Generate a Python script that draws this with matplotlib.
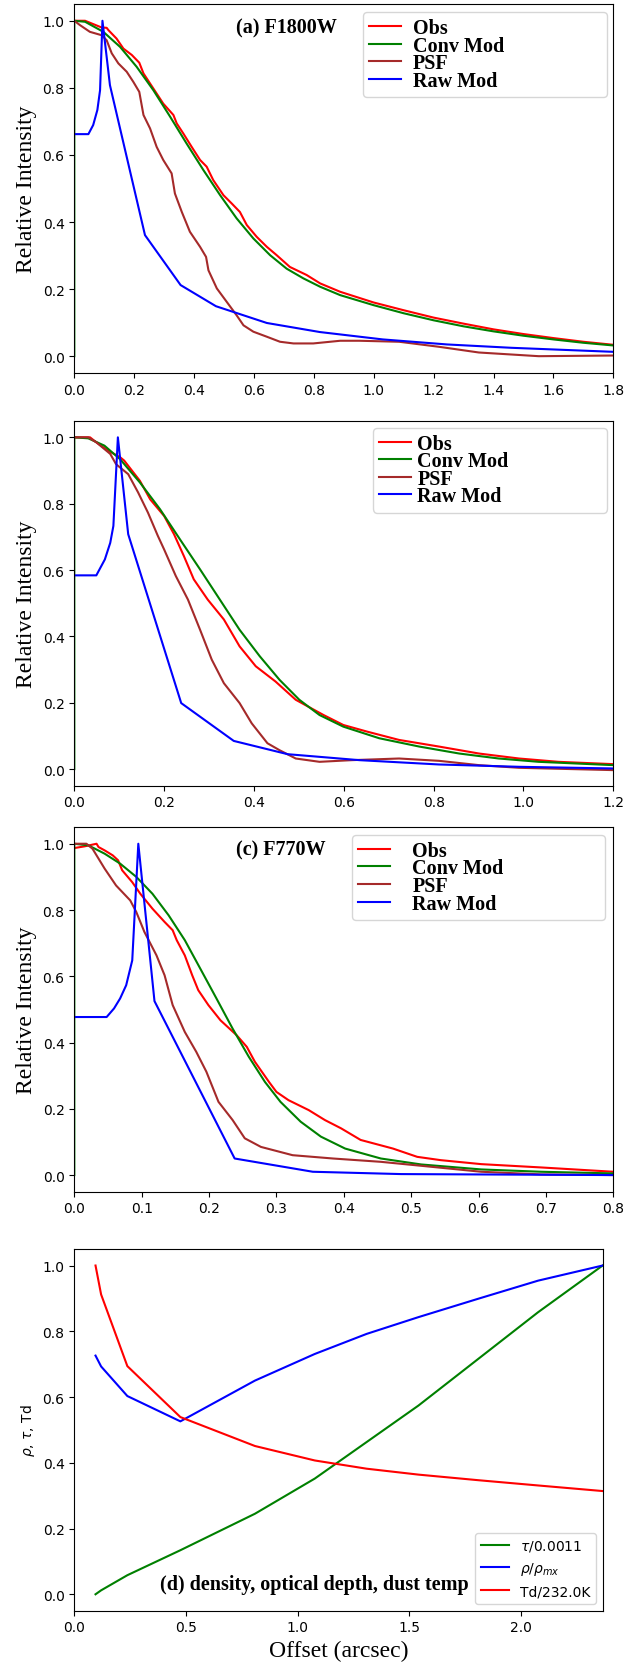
import matplotlib
matplotlib.use('Agg')
import matplotlib.pyplot as plt

# (a) F1800W
obs_a_x = [0, 0.036, 0.058, 0.091, 0.108, 0.114, 0.141, 0.164, 0.192, 0.217, 0.231, 0.264, 0.297, 0.331, 0.342,
           0.364, 0.392, 0.42, 0.442, 0.464, 0.498, 0.526, 0.553, 0.576, 0.609, 0.643, 0.676, 0.72, 0.776, 0.821,
           0.888, 1.0, 1.1, 1.2, 1.3, 1.4, 1.5, 1.6, 1.7, 1.8]
obs_a_y = [1.0, 1.0, 0.992, 0.98, 0.979, 0.972, 0.947, 0.917, 0.898, 0.875, 0.843, 0.798, 0.753, 0.719, 0.694,
           0.664, 0.624, 0.585, 0.565, 0.525, 0.48, 0.455, 0.43, 0.391, 0.356, 0.326, 0.301, 0.266, 0.242, 0.217,
           0.192, 0.16, 0.137, 0.115, 0.097, 0.08, 0.066, 0.054, 0.043, 0.034]
conv_a_x = [0, 0, 0.036, 0.097, 0.153, 0.208, 0.264, 0.32, 0.375, 0.431, 0.487, 0.542, 0.598, 0.654, 0.709,
            0.765, 0.821, 0.888, 1.0, 1.1, 1.2, 1.3, 1.4, 1.5, 1.6, 1.7, 1.8]
conv_a_y = [0, 1.0, 0.997, 0.967, 0.922, 0.863, 0.793, 0.714, 0.634, 0.555, 0.48, 0.411, 0.351, 0.301, 0.261,
            0.232, 0.207, 0.182, 0.152, 0.128, 0.107, 0.089, 0.074, 0.061, 0.05, 0.04, 0.032]
psf_a_x = [0, 0.019, 0.052, 0.091, 0.108, 0.125, 0.147, 0.175, 0.197, 0.217, 0.231, 0.253, 0.275, 0.297, 0.325,
           0.336, 0.359, 0.386, 0.42, 0.44, 0.448, 0.476, 0.509, 0.542, 0.565, 0.598, 0.643, 0.687, 0.732, 0.798,
           0.888, 0.952, 1.085, 1.218, 1.351, 1.551, 1.8]
psf_a_y = [1.0, 0.987, 0.967, 0.957, 0.942, 0.903, 0.873, 0.848, 0.818, 0.788, 0.719, 0.679, 0.624, 0.585, 0.545,
           0.485, 0.43, 0.371, 0.326, 0.296, 0.256, 0.202, 0.162, 0.122, 0.092, 0.073, 0.058, 0.043, 0.038, 0.038,
           0.046, 0.046, 0.043, 0.028, 0.011, 0.0, 0.002]
raw_a_x = [0, 0.047, 0.063, 0.077, 0.086, 0.094, 0.119, 0.236, 0.355, 0.473, 0.643, 0.82, 1.03, 1.245, 1.46, 1.8]
raw_a_y = [0.662, 0.662, 0.689, 0.734, 0.793, 1.0, 0.808, 0.361, 0.212, 0.149, 0.099, 0.072, 0.05, 0.035, 0.025, 0.013]

# (b)
obs_b_x = [0, 0.035, 0.049, 0.075, 0.102, 0.111, 0.146, 0.169, 0.2, 0.222, 0.244, 0.266, 0.297, 0.333, 0.368,
           0.404, 0.448, 0.493, 0.528, 0.555, 0.599, 0.652, 0.723, 0.812, 0.901, 0.99, 1.078, 1.2]
obs_b_y = [1.0, 1.0, 0.985, 0.96, 0.94, 0.93, 0.869, 0.813, 0.763, 0.708, 0.642, 0.572, 0.511, 0.451, 0.37,
           0.31, 0.264, 0.209, 0.183, 0.163, 0.133, 0.113, 0.088, 0.068, 0.047, 0.032, 0.022, 0.015]
conv_b_x = [0, 0, 0.031, 0.067, 0.102, 0.146, 0.191, 0.235, 0.28, 0.324, 0.368, 0.413, 0.457, 0.501, 0.546,
            0.599, 0.679, 0.768, 0.857, 0.945, 1.034, 1.2]
conv_b_y = [0, 1.0, 0.997, 0.975, 0.934, 0.864, 0.783, 0.693, 0.602, 0.511, 0.42, 0.34, 0.269, 0.209, 0.163,
            0.128, 0.093, 0.068, 0.047, 0.032, 0.022, 0.012]
psf_b_x = [0, 0.031, 0.049, 0.08, 0.093, 0.12, 0.142, 0.164, 0.186, 0.2, 0.226, 0.253, 0.28, 0.306, 0.333,
           0.368, 0.395, 0.43, 0.457, 0.493, 0.546, 0.617, 0.723, 0.812, 0.901, 0.99, 1.2]
psf_b_y = [1.0, 1.0, 0.985, 0.95, 0.919, 0.889, 0.834, 0.773, 0.703, 0.662, 0.582, 0.511, 0.42, 0.33, 0.259,
           0.199, 0.138, 0.078, 0.057, 0.032, 0.022, 0.027, 0.032, 0.025, 0.012, 0.004, -0.003]
raw_b_x = [0, 0.049, 0.068, 0.08, 0.087, 0.097, 0.12, 0.238, 0.355, 0.475, 0.635, 0.812, 0.99, 1.2]
raw_b_y = [0.584, 0.584, 0.632, 0.682, 0.733, 1.0, 0.708, 0.199, 0.085, 0.045, 0.027, 0.014, 0.007, 0.002]

# (c) F770W
obs_c_x = [0, 0.015, 0.033, 0.036, 0.045, 0.057, 0.065, 0.071, 0.086, 0.098, 0.116, 0.134, 0.146, 0.152, 0.164,
           0.175, 0.184, 0.199, 0.217, 0.241, 0.256, 0.268, 0.289, 0.3, 0.318, 0.348, 0.372, 0.396, 0.425, 0.473,
           0.509, 0.544, 0.604, 0.693, 0.8]
obs_c_y = [0.987, 0.992, 1.0, 0.99, 0.98, 0.965, 0.95, 0.92, 0.884, 0.849, 0.804, 0.764, 0.739, 0.709, 0.663,
           0.603, 0.558, 0.513, 0.467, 0.422, 0.387, 0.342, 0.281, 0.251, 0.226, 0.196, 0.166, 0.141, 0.106, 0.08,
           0.055, 0.045, 0.033, 0.023, 0.01]
conv_c_x = [0, 0, 0.021, 0.045, 0.068, 0.092, 0.116, 0.14, 0.164, 0.187, 0.211, 0.235, 0.259, 0.283, 0.306,
            0.336, 0.366, 0.402, 0.455, 0.515, 0.604, 0.693, 0.8]
conv_c_y = [0, 1.0, 0.995, 0.97, 0.94, 0.9, 0.849, 0.784, 0.709, 0.623, 0.533, 0.442, 0.357, 0.281, 0.221,
            0.161, 0.116, 0.08, 0.05, 0.032, 0.017, 0.01, 0.005]
psf_c_x = [0, 0.018, 0.027, 0.045, 0.062, 0.083, 0.092, 0.104, 0.122, 0.134, 0.146, 0.164, 0.181, 0.196, 0.214,
           0.235, 0.253, 0.277, 0.324, 0.384, 0.455, 0.515, 0.604, 0.693, 0.8]
psf_c_y = [1.0, 1.0, 0.985, 0.925, 0.874, 0.829, 0.794, 0.734, 0.663, 0.603, 0.513, 0.432, 0.372, 0.312, 0.221,
           0.166, 0.111, 0.085, 0.06, 0.05, 0.04, 0.028, 0.01, 0.002, 0.0]
raw_c_x = [0, 0.048, 0.059, 0.068, 0.077, 0.086, 0.095, 0.119, 0.238, 0.354, 0.485, 0.8]
raw_c_y = [0.477, 0.477, 0.503, 0.533, 0.573, 0.648, 1.0, 0.525, 0.05, 0.01, 0.003, 0.0]

# (d) density, optical depth, dust temperature
d_x = [0.095, 0.12, 0.2375, 0.475, 0.809, 1.077, 1.309, 1.541, 1.809, 2.077, 2.366]
tau_d = [0.0, 0.012, 0.058, 0.134, 0.245, 0.352, 0.463, 0.574, 0.716, 0.858, 1.0]
rho_d = [0.726, 0.693, 0.603, 0.526, 0.650, 0.731, 0.792, 0.843, 0.899, 0.954, 1.0]
td_d = [1.0, 0.912, 0.694, 0.539, 0.451, 0.407, 0.382, 0.364, 0.347, 0.331, 0.314]

serif = 'Liberation Serif'
bold = {'family': serif, 'weight': 'bold', 'size': 14.5}

fig = plt.figure(figsize=(6.26, 16.65), dpi=100)
L, W = 0.1187, 0.861


def profile(rect, data, xmax, bbox, tpad, title=None):
    ax = fig.add_axes(rect)
    ox, oy, cx, cy, px, py, rx, ry = data
    ax.plot(ox, oy, color='red', label='Obs')
    ax.plot(cx, cy, color='green', label='Conv Mod')
    ax.plot(px, py, color='brown', label='PSF')
    ax.plot(rx, ry, color='blue', label='Raw Mod')
    ax.set_xlim(0, xmax)
    ax.set_ylim(-0.05, 1.05)
    ax.set_ylabel('Relative Intensity', family=serif, fontsize=17)
    ax.legend(loc='upper left', bbox_to_anchor=bbox, mode='expand', borderaxespad=0,
              prop=bold, handlelength=1.6, handletextpad=tpad, labelspacing=-0.12,
              borderpad=0.3)
    if title:
        ax.text(0.3, 0.924, title, transform=ax.transAxes, family=serif,
                weight='bold', fontsize=14.5, va='baseline')
    return ax


profile([L, 0.7754, W, 0.2216], (obs_a_x, obs_a_y, conv_a_x, conv_a_y, psf_a_x, psf_a_y, raw_a_x, raw_a_y),
        1.8, (0.536, 0.748, 0.452, 0.23), 0.55, '(a) F1800W')
profile([L, 0.5275, W, 0.2192], (obs_b_x, obs_b_y, conv_b_x, conv_b_y, psf_b_x, psf_b_y, raw_b_x, raw_b_y),
        1.2, (0.554, 0.751, 0.434, 0.23), 0.3)
profile([L, 0.2837, W, 0.2189], (obs_c_x, obs_c_y, conv_c_x, conv_c_y, psf_c_x, psf_c_y, raw_c_x, raw_c_y),
        0.8, (0.515, 0.751, 0.469, 0.228), 1.1, '(c) F770W')

ax = fig.add_axes([L, 0.0320, 0.844, 0.2172])
ax.plot(d_x, tau_d, color='green', label=r'$\tau$/0.0011')
ax.plot(d_x, rho_d, color='blue', label=r'$\rho/\rho_{mx}$')
ax.plot(d_x, td_d, color='red', label='Td/232.0K')
ax.set_xlim(0, max(d_x))
ax.set_ylim(-0.05, 1.05)
ax.set_ylabel(r'$\rho$, $\tau$, Td')
ax.set_xlabel('Offset (arcsec)', family=serif, fontsize=17)
ax.text(0.384, 0.015, '(d) density, optical depth, dust temp', family=serif, weight='bold',
        fontsize=14.5, va='baseline')
ax.legend(loc='lower right')

plt.savefig('out.png', dpi=100)
